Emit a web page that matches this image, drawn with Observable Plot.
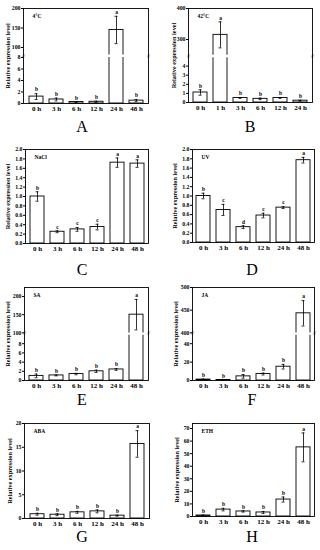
<!DOCTYPE html>
<html>
<head>
<meta charset="utf-8">
<script src="https://cdn.jsdelivr.net/npm/d3@7"></script>
<script src="https://cdn.jsdelivr.net/npm/@observablehq/plot@0.6"></script>
<style>
  html, body { margin: 0; padding: 0; background: #fff; }
  #fig { position: relative; width: 320px; height: 550px; overflow: hidden; background: #fff; }
  #fig svg { position: absolute; overflow: visible; }
  .letter { position: absolute; width: 160px; text-align: center; font-family: "Liberation Serif", serif; font-size: 16px; line-height: 18px; color: #000; }
</style>
</head>
<body>
<div id="fig"></div>
<script>
// ---- data ----
const timesA = ["0 h", "3 h", "6 h", "12 h", "24 h", "48 h"];
const timesB = ["0 h", "1 h", "3 h", "6 h", "12 h", "24 h"];

const meanA = [1.2, 0.7, 0.25, 0.3, 145, 0.5];
const errA  = [0.5, 0.25, 0.05, 0.1, 35, 0.2];
const sigA  = ["b", "b", "b", "b", "a", "b"];

const meanB = [1.1, 315, 0.5, 0.4, 0.5, 0.2];
const errB  = [0.3, 42, 0.05, 0.08, 0.05, 0.05];
const sigB  = ["b", "a", "b", "b", "b", "b"];

const meanC = [1.0, 0.25, 0.3, 0.35, 1.72, 1.70];
const errC  = [0.1, 0.02, 0.04, 0.06, 0.1, 0.08];
const sigC  = ["b", "c", "c", "c", "a", "a"];

const meanD = [1.0, 0.7, 0.33, 0.58, 0.75, 1.77];
const errD  = [0.06, 0.12, 0.03, 0.05, 0.02, 0.06];
const sigD  = ["b", "c", "d", "c", "c", "a"];

const meanE = [1.0, 1.1, 1.4, 2.0, 2.4, 150];
const errE  = [0.4, 0.1, 0.15, 0.25, 0.2, 42];
const sigE  = ["b", "b", "b", "b", "b", "a"];

const meanF = [1.0, 0.5, 4.5, 7.0, 15, 443];
const errF  = [0.5, 0.2, 2, 1, 2.5, 28];
const sigF  = ["b", "b", "b", "b", "b", "a"];

const meanG = [0.9, 0.8, 1.3, 1.5, 0.6, 15.7];
const errG  = [0.2, 0.2, 0.2, 0.3, 0.1, 2.8];
const sigG  = ["b", "b", "b", "b", "b", "a"];

const meanH = [0.8, 5.5, 4.0, 3.2, 13.5, 55];
const errH  = [0.3, 1.0, 0.5, 0.8, 2.0, 11.5];
const sigH  = ["b", "b", "b", "b", "b", "a"];

const ticksA = [0, 2, 4, 6, 8, 100, 150, 200];
const ticksB = [0, 1, 2, 3, 4, 300, 400];
const ticksC = [0, 0.2, 0.4, 0.6, 0.8, 1.0, 1.2, 1.4, 1.6, 1.8, 2.0];
const ticksE = [0, 2, 4, 6, 8, 100, 150, 200];
const ticksF = [0, 20, 40, 400, 450, 500];
const ticksG = [0, 5, 10, 15, 20];
const ticksH = [0, 10, 20, 30, 40, 50, 60, 70];

const treatments = ["4°C", "42°C", "NaCl", "UV", "SA", "JA", "ABA", "ETH"];
const panelLetters = ["A", "B", "C", "D", "E", "F", "G", "H"];

// ---- layout ----
const fig = document.getElementById("fig");
const SERIF = '"Liberation Serif", "Times New Roman", serif';
const yTitle = "Relative expression level";

function panel(cfg) {
  const mt = 8, mb = 16;
  const H = cfg.y1 - cfg.y0;               // frame height in px
  const svgTop = cfg.y0 - mt;
  const height = H + mt + mb;
  // (possibly broken) value axis: value -> px above the baseline
  const segs = cfg.segs || [0, H];
  const disp = d3.scaleLinear().domain(cfg.domain).range(segs);
  const rows = cfg.cats.map((t, i) => ({t, v: cfg.mean[i], e: cfg.err[i], s: cfg.sig[i]}));
  const fmt = cfg.fmt || (d => String(d));
  const marks = [
    Plot.barY(rows, {x: "t", y: d => disp(d.v), fill: "white", stroke: "black", strokeWidth: 0.9}),
  ];
  let brkY;
  if (cfg.domain.length > 2) {
    brkY = (segs[1] + segs[2]) / 2;
    marks.push(Plot.ruleY([brkY], {stroke: "white", strokeWidth: 2.4}));
  }
  marks.push(
    Plot.ruleX(rows, {x: "t", y1: d => disp(d.v - d.e), y2: d => disp(d.v + d.e), stroke: "black", strokeWidth: 0.8}),
    Plot.tickY(rows, {x: "t", y: d => disp(d.v + d.e), stroke: "black", strokeWidth: 0.8, insetLeft: 5.5, insetRight: 5.5}),
    Plot.tickY(rows, {x: "t", y: d => disp(d.v - d.e), stroke: "black", strokeWidth: 0.8, insetLeft: 5.5, insetRight: 5.5}),
    Plot.text(rows, {x: "t", y: d => disp(d.v + d.e), text: "s", dy: -4, fontSize: 5.5, fontWeight: "bold", fill: "black"}),
    Plot.frame({stroke: "black", strokeWidth: 0.9}),
    Plot.text([cfg.name], {frameAnchor: "top-left", dx: 9, dy: 6, fontSize: 5.5, fontWeight: "bold", fill: "black"}),
    Plot.axisY(cfg.ticks.map(t => disp(t)), {
      tickFormat: d => fmt(Math.round(disp.invert(d) * 1000) / 1000),
      tickSize: 2, tickPadding: 1, fontSize: 5.8, fontWeight: "bold", label: null
    }),
    Plot.text([yTitle], {frameAnchor: "left", textAnchor: "middle", rotate: -90, dx: -cfg.labOff, fontSize: 6.3, fontWeight: "bold", fill: "black"}),
    Plot.axisX({tickSize: 0, tickPadding: 3, fontSize: 7, fontWeight: "bold", label: null})
  );
  if (brkY !== undefined) {
    marks.push(
      Plot.text(["//"], {frameAnchor: "left", textAnchor: "middle", y: () => brkY, fontSize: 5.5, fill: "black"}),
      Plot.text(["//"], {frameAnchor: "right", textAnchor: "middle", y: () => brkY, fontSize: 5.5, fill: "black"})
    );
  }
  const chart = Plot.plot({
    width: 160,
    height,
    marginLeft: cfg.x0 - cfg.left,
    marginRight: cfg.left + 160 - cfg.x1,
    marginTop: mt,
    marginBottom: mb,
    style: {fontFamily: SERIF, background: "transparent", color: "black"},
    x: {domain: cfg.cats, paddingInner: 0.3, paddingOuter: 0.15, label: null},
    y: {domain: [0, H], label: null},
    marks
  });
  chart.style.left = cfg.left + "px";
  chart.style.top = svgTop + "px";
  fig.appendChild(chart);

  const L = document.createElement("div");
  L.className = "letter";
  L.textContent = cfg.letter;
  L.style.left = (cfg.left + cfg.letterX - 80) + "px";
  L.style.top = (cfg.letterY - 9) + "px";
  fig.appendChild(L);
}

const f1 = d => d.toFixed(1);

panel({left: 0, x0: 23, x1: 148, y0: 8, y1: 103, cats: timesA, mean: meanA, err: errA, sig: sigA,
  name: treatments[0], letter: panelLetters[0], letterX: 82, letterY: 127, labOff: 16,
  domain: [0, 8.2, 80, 200], segs: [0, 47.2, 48.2, 95], ticks: ticksA});
panel({left: 160, x0: 188, x1: 312, y0: 8, y1: 102, cats: timesB, mean: meanB, err: errB, sig: sigB,
  name: treatments[1], letter: panelLetters[1], letterX: 90, letterY: 127, labOff: 15,
  domain: [0, 5, 250, 400], segs: [0, 45.5, 47.5, 94], ticks: ticksB});
panel({left: 0, x0: 25, x1: 148, y0: 149, y1: 243, cats: timesA, mean: meanC, err: errC, sig: sigC,
  name: treatments[2], letter: panelLetters[2], letterX: 82, letterY: 270, labOff: 18,
  domain: [0, 2.0], ticks: ticksC, fmt: f1});
panel({left: 160, x0: 192, x1: 314, y0: 149, y1: 242, cats: timesA, mean: meanD, err: errD, sig: sigD,
  name: treatments[3], letter: panelLetters[3], letterX: 92, letterY: 270, labOff: 18,
  domain: [0, 2.0], ticks: ticksC, fmt: f1});
panel({left: 0, x0: 24, x1: 148, y0: 287, y1: 380, cats: timesA, mean: meanE, err: errE, sig: sigE,
  name: treatments[4], letter: panelLetters[4], letterX: 82, letterY: 400, labOff: 17,
  domain: [0, 10, 100, 225], segs: [0, 46, 47.7, 93], ticks: ticksE});
panel({left: 160, x0: 192, x1: 314, y0: 287, y1: 380, cats: timesA, mean: meanF, err: errF, sig: sigF,
  name: treatments[5], letter: panelLetters[5], letterX: 92, letterY: 400, labOff: 17,
  domain: [0, 50, 400, 500], segs: [0, 46, 47.7, 93], ticks: ticksF});
panel({left: 0, x0: 24, x1: 149, y0: 423, y1: 518, cats: timesA, mean: meanG, err: errG, sig: sigG,
  name: treatments[6], letter: panelLetters[6], letterX: 82, letterY: 537, labOff: 15,
  domain: [0, 20], ticks: ticksG});
panel({left: 160, x0: 192, x1: 314, y0: 423, y1: 516, cats: timesA, mean: meanH, err: errH, sig: sigH,
  name: treatments[7], letter: panelLetters[7], letterX: 92, letterY: 537, labOff: 16,
  domain: [0, 74], ticks: ticksH});
</script>
</body>
</html>
